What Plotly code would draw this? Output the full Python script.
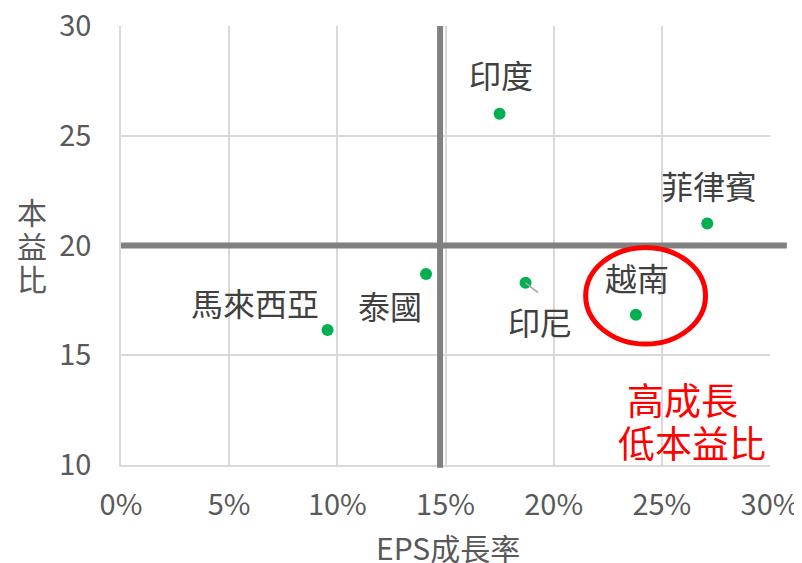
import plotly.graph_objects as go

countries = ["印度", "菲律賓", "泰國", "馬來西亞", "印尼", "越南"]
eps_growth = [17.5, 27.1, 14.1, 9.55, 18.7, 23.8]   # %
pe_ratio = [26.0, 21.0, 18.7, 16.15, 18.3, 16.85]
x_ticks = [0, 5, 10, 15, 20, 25, 30]
x_tick_labels = ["0%", "5%", "10%", "15%", "20%", "25%", "30%"]
y_ticks = [10, 15, 20, 25, 30]
x_divider = 14.75
y_divider = 20
highlight_lines = ["高成長", "低本益比"]
x_title = "EPS成長率"
y_title = "本益比"

FONT = "Noto Sans CJK TC"
GRID = "#D9D9D9"
TICK = "#595959"
LABEL = "#404040"

# page body has an 8px margin, so the figure is sized/offset to compensate
W, H = 794, 555
ML, MR, MT, MB = 113, 32, 18, 98
PW, PH = W - ML - MR, H - MT - MB

fig = go.Figure()
fig.add_trace(go.Scatter(
    x=eps_growth, y=pe_ratio, mode="markers",
    marker=dict(color="#00B050", size=12),
    hoverinfo="text", text=countries, showlegend=False,
))

# label offsets (pixels) relative to each point
offsets = {
    "印度": (1, 40),
    "菲律賓": (2, 39),
    "泰國": (-36, -31),
    "馬來西亞": (-73, 28),
    "印尼": (14, -38),
    "越南": (1, 38),
}
ann = []
for c, xv, yv in zip(countries, eps_growth, pe_ratio):
    dx, dy = offsets[c]
    ann.append(dict(x=xv, y=yv, xref="x", yref="y", text=c, showarrow=False,
                    xanchor="center", yanchor="middle",
                    xshift=dx, yshift=dy, font=dict(family=FONT, size=32, color=LABEL)))
# leader line for 印尼
i = countries.index("印尼")
ann.append(dict(x=eps_growth[i], y=pe_ratio[i], xref="x", yref="y", text="",
                showarrow=True, arrowhead=0, arrowwidth=1.5, arrowcolor="#A6A6A6",
                ax=14, ay=11, standoff=0))
# highlight text (two lines, pixel centres relative to plot area)
for line, (px, py) in zip(highlight_lines, [(561, 373), (571, 416)]):
    ann.append(dict(x=px / PW, y=1 - py / PH, xref="paper", yref="paper", text=line,
                    showarrow=False, xanchor="center", yanchor="middle",
                    font=dict(family=FONT, size=37, color="#FF0000")))
# y title, stacked vertically (pixel rows from the plot top)
for ch, py in zip(y_title, [185, 219, 252]):
    ann.append(dict(x=-89 / PW, y=1 - py / PH, xref="paper", yref="paper",
                    text=ch, showarrow=False, xanchor="center", yanchor="middle",
                    font=dict(family=FONT, size=30, color=TICK)))
# x title
ann.append(dict(x=327 / PW, y=-82 / PH, xref="paper", yref="paper",
                text=x_title, showarrow=False, xanchor="center", yanchor="middle",
                font=dict(family=FONT, size=30, color=TICK)))

shapes = [
    dict(type="line", xref="paper", yref="y", x0=0, x1=1.026, y0=y_divider, y1=y_divider,
         line=dict(color="#808080", width=6), layer="above"),
    dict(type="line", xref="x", yref="paper", x0=x_divider, x1=x_divider, y0=-0.006, y1=1,
         line=dict(color="#808080", width=6), layer="above"),
    dict(type="circle", xref="x", yref="y", x0=21.48, x1=27.02, y0=15.51, y1=19.91,
         line=dict(color="#FF0000", width=5), layer="above"),
]

fig.update_layout(
    width=W, height=H,
    margin=dict(l=ML, r=MR, t=MT, b=MB, autoexpand=False),
    paper_bgcolor="white", plot_bgcolor="white",
    font=dict(family=FONT, color=TICK),
    annotations=ann, shapes=shapes,
    xaxis=dict(range=[0, 30], tickvals=x_ticks, ticktext=x_tick_labels,
               showgrid=True, gridcolor=GRID, gridwidth=1.5, automargin=False,
               showline=True, linecolor=GRID, linewidth=1.5, zeroline=False,
               tickfont=dict(family=FONT, size=29, color=TICK), ticks="",
               ticklabelstandoff=13, ticklabeloverflow="allow"),
    yaxis=dict(range=[10, 30], tickvals=y_ticks, automargin=False,
               showgrid=True, gridcolor=GRID, gridwidth=1.5,
               showline=True, linecolor=GRID, linewidth=1.5, zeroline=False,
               tickfont=dict(family=FONT, size=29, color=TICK), ticks="",
               ticklabelstandoff=22, ticklabeloverflow="allow"),
)

fig.write_html("out.html")
